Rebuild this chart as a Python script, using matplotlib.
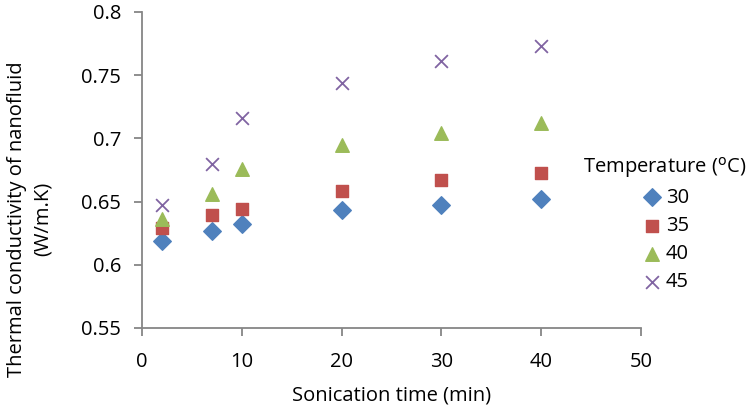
import matplotlib.pyplot as plt

plt.rcParams['font.family'] = ['Open Sans', 'DejaVu Sans']

# sonication time (min)
time = [2, 7, 10, 20, 30, 40]
# thermal conductivity (W/m.K) per temperature
k30 = [0.619, 0.627, 0.632, 0.643, 0.647, 0.652]
k35 = [0.629, 0.639, 0.644, 0.658, 0.667, 0.673]
k40 = [0.636, 0.656, 0.676, 0.695, 0.704, 0.712]
k45 = [0.647, 0.680, 0.716, 0.744, 0.761, 0.773]
temps = ['30', '35', '40', '45']

fs = 14.5
fig = plt.figure(figsize=(7.54, 4.12), dpi=100)
ax = fig.add_axes([0.1883, 0.2039, 0.6617, 0.767])

gray = '#868686'
ax.scatter(time, k30, marker='D', s=80, color='#4F81BD', label=temps[0], zorder=3)
ax.scatter(time, k35, marker='s', s=64, color='#C0504D', label=temps[1], zorder=3)
ax.scatter(time, k40, marker='^', s=95, color='#9BBB59', label=temps[2], zorder=3)
ax.scatter(time, k45, marker='x', s=85, color='#8064A2', linewidths=1.3, label=temps[3], zorder=3)

ax.set_xlim(0, 50)
ax.set_ylim(0.55, 0.8)
ax.set_xticks([0, 10, 20, 30, 40, 50])
ax.set_yticks([0.55, 0.6, 0.65, 0.7, 0.75, 0.8])
ax.set_yticklabels(['0.55', '0.6', '0.65', '0.7', '0.75', '0.8'])

for side in ['top', 'right']:
    ax.spines[side].set_visible(False)
for side in ['left', 'bottom']:
    ax.spines[side].set_color(gray)
    ax.spines[side].set_linewidth(1.3)
ax.tick_params(colors=gray, labelcolor='black', labelsize=fs, length=6, width=1.3, direction='out')
ax.tick_params(axis='x', pad=11)
ax.tick_params(axis='y', pad=9)

fig.text(0.5193, 0.04, 'Sonication time (min)', ha='center', va='center', fontsize=fs)
fig.text(0.04, 0.469, 'Thermal conductivity of nanofluid\n(W/m.K)', ha='center', va='center',
         rotation=90, fontsize=fs, linespacing=1.4)

leg = ax.legend(title='Temperature ($^{\\mathrm{o}}$C)', loc='center', bbox_to_anchor=(0.882, 0.458),
                bbox_transform=fig.transFigure, frameon=False, fontsize=fs, title_fontsize=fs,
                handletextpad=0.15, labelspacing=0.4, handlelength=1.1, borderaxespad=0,
                borderpad=0)

fig.savefig('out.png', dpi=100)
